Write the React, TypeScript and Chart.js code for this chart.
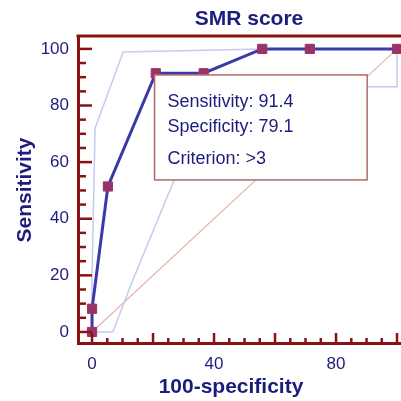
import React, { useEffect, useRef } from "react";
import { Chart, registerables } from "chart.js";

Chart.register(...registerables);

const titleText = "SMR score";
const xTitle = "100-specificity";
const yTitle = "Sensitivity";

const rocX = [0, 0, 5.2, 20.9, 36.6, 55.8, 71.4, 100];
const rocY = [0, 8.2, 51.4, 91.4, 91.4, 100, 100, 100];

const upperX = [0, 0, 1, 10.2, 55.8, 100];
const upperY = [0, 20, 72, 98.9, 100, 100];

const lowerX = [0, 6.8, 13.4, 27.2, 40, 55, 70, 90.5, 100, 100];
const lowerY = [0, 0, 18.4, 54.4, 68, 78, 83, 86.6, 86.6, 100];

const diagX = [0, 100];
const diagY = [0, 100];

const xTickValues = [0, 40, 80];
const yTickValues = [0, 20, 40, 60, 80, 100];

const boxLines = ["Sensitivity: 91.4", "Specificity: 79.1", "Criterion: >3"];

const NAVY = "#1c1c7e";
const AXIS = "#8a1212";
const FONT = "'Liberation Sans', Arial, sans-serif";

const pts = (xs: number[], ys: number[]) => xs.map((x, i) => ({ x, y: ys[i] }));

const decorPlugin = {
  id: "decor",
  afterDatasetsDraw(chart: any) {
    const { ctx } = chart;
    const xs = chart.scales.x;
    const ys = chart.scales.y;
    // info box
    const l = xs.getPixelForValue(20.5);
    const r = xs.getPixelForValue(90.2);
    const t = ys.getPixelForValue(90.8);
    const b = ys.getPixelForValue(53.7);
    ctx.save();
    ctx.fillStyle = "#ffffff";
    ctx.fillRect(l, t, r - l, b - t);
    ctx.strokeStyle = "#b06a6a";
    ctx.lineWidth = 1.5;
    ctx.strokeRect(l, t, r - l, b - t);
    ctx.fillStyle = NAVY;
    ctx.font = `18px ${FONT}`;
    ctx.textAlign = "left";
    ctx.textBaseline = "alphabetic";
    const baselines = [32, 57, 89];
    boxLines.forEach((s, i) => ctx.fillText(s, l + 13, t + baselines[i]));
    ctx.restore();
  },
  afterDraw(chart: any) {
    const { ctx, chartArea } = chart;
    const xs = chart.scales.x;
    const ys = chart.scales.y;
    ctx.save();
    ctx.strokeStyle = AXIS;
    // top border
    ctx.beginPath();
    ctx.lineWidth = 3;
    ctx.moveTo(chartArea.left - 1.5, chartArea.top - 1);
    ctx.lineTo(chartArea.right, chartArea.top - 1);
    ctx.stroke();
    ctx.lineWidth = 2.5;
    // inward ticks
    for (let v = 0; v <= 100; v += 5) {
      const major = v % 20 === 0;
      const px = xs.getPixelForValue(v);
      ctx.beginPath();
      ctx.moveTo(px, chartArea.bottom);
      ctx.lineTo(px, chartArea.bottom - (major ? 10 : 5));
      ctx.stroke();
      const py = ys.getPixelForValue(v);
      ctx.beginPath();
      ctx.moveTo(chartArea.left, py);
      ctx.lineTo(chartArea.left + (major ? 14 : 8), py);
      ctx.stroke();
    }
    // titles
    ctx.fillStyle = NAVY;
    ctx.font = `bold 21px ${FONT}`;
    ctx.textAlign = "center";
    ctx.textBaseline = "middle";
    ctx.fillText(titleText, 249, 19);
    ctx.fillText(xTitle, 231, 387);
    ctx.translate(25, 190);
    ctx.rotate(-Math.PI / 2);
    ctx.fillText(yTitle, 0, 0);
    ctx.restore();
  },
};

export default function App() {
  const ref = useRef<HTMLCanvasElement>(null);
  useEffect(() => {
    if (!ref.current) return;
    Chart.defaults.font.family = FONT;
    const chart = new Chart(ref.current, {
      type: "line",
      data: {
        datasets: [
          {
            data: pts(rocX, rocY),
            borderColor: "#3a3aa6",
            borderWidth: 3,
            pointStyle: "rect",
            pointRadius: 6.5,
            pointBorderWidth: 1,
            pointBackgroundColor: "#9a3466",
            pointBorderColor: "#9a3466",
            order: 0,
          },
          {
            data: pts(upperX, upperY),
            borderColor: "#cacaf0",
            borderWidth: 1.5,
            pointRadius: 0,
            order: 1,
          },
          {
            data: pts(lowerX, lowerY),
            borderColor: "#cacaf0",
            borderWidth: 1.5,
            pointRadius: 0,
            order: 2,
          },
          {
            data: pts(diagX, diagY),
            borderColor: "#e8b2aa",
            borderWidth: 1.2,
            pointRadius: 0,
            order: 3,
          },
        ],
      },
      options: {
        animation: false,
        responsive: false,
        maintainAspectRatio: false,
        layout: { autoPadding: false, padding: { top: 37, left: 0, right: 0, bottom: 0 } },
        plugins: {
          legend: { display: false },
          tooltip: { enabled: false },
          title: { display: false },
        },
        scales: {
          x: {
            type: "linear",
            min: -4.6,
            max: 101.3,
            afterFit: (s: any) => {
              s.height = 58;
            },
            afterBuildTicks: (s: any) => {
              s.ticks = xTickValues.map((v) => ({ value: v }));
            },
            grid: { display: false, drawTicks: false },
            border: { display: true, color: AXIS, width: 3 },
            ticks: {
              color: NAVY,
              font: { size: 17 },
              padding: 11,
              maxRotation: 0,
              autoSkip: false,
            },
          },
          y: {
            type: "linear",
            min: -3.9,
            max: 104.2,
            afterFit: (s: any) => {
              s.width = 78;
            },
            afterBuildTicks: (s: any) => {
              s.ticks = yTickValues.map((v) => ({ value: v }));
            },
            grid: { display: false, drawTicks: false },
            border: { display: true, color: AXIS, width: 3 },
            ticks: {
              color: NAVY,
              font: { size: 17 },
              padding: 9,
              autoSkip: false,
            },
          },
        },
      },
      plugins: [decorPlugin],
    });
    return () => chart.destroy();
  }, []);
  return (
    <div style={{ position: "absolute", left: 0, top: 0, width: 401, height: 401 }}>
      <canvas ref={ref} width={401} height={401} />
    </div>
  );
}
